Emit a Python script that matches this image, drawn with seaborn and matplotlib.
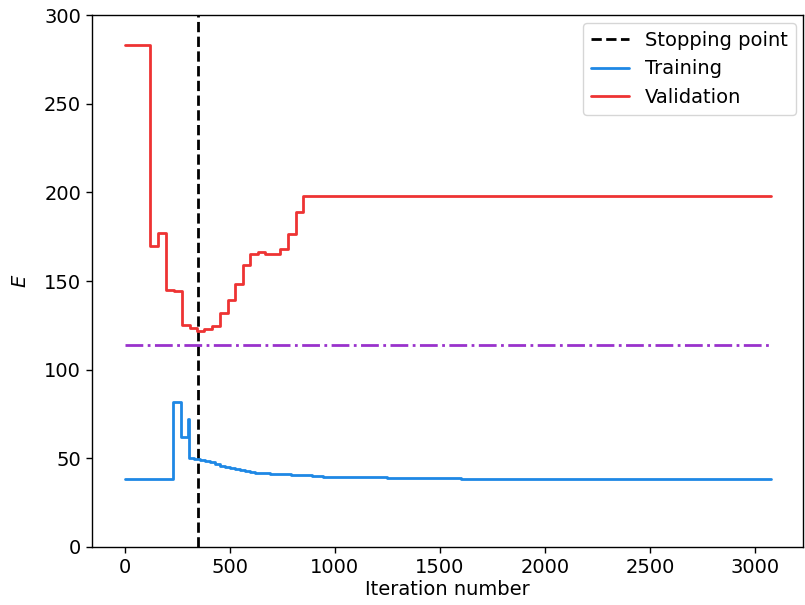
import matplotlib
matplotlib.use("Agg")
import matplotlib.pyplot as plt
import seaborn as sns
import pandas as pd

val_iter = [0, 123, 160, 198, 235, 273, 313, 344, 376, 415, 455, 491, 526, 562, 597, 637, 668, 739, 779, 815, 850, 3075]
val_E = [283, 169.5, 177, 144.8, 144.3, 125.4, 123.5, 121.6, 123, 124.5, 132, 139.5, 148.6, 158.8, 165.5, 166.5, 165, 167.8, 176.3, 188.9, 197.9, 197.9]

train_iter = [0, 231, 270, 300, 305, 330, 360, 385, 408, 430, 455, 480, 502, 525, 550, 575, 597, 620, 645, 690,
              739, 790, 834, 890, 945, 1071, 1250, 1403, 1600, 1782, 2200, 3075]
train_E = [38.2, 81.5, 62, 72, 50.1, 49.6, 49.1, 48.5, 47.8, 47.0, 45.9, 45.2, 44.4, 44.0, 43.5, 42.8, 42.2, 41.9, 41.6, 41.3,
           41.1, 40.7, 40.3, 40.0, 39.7, 39.4, 39.1, 38.8, 38.5, 38.3, 38.1, 38.1]

stop_iter = 350
ref_level = 114
ref_span = [0, 3075]

sns.set_theme(style="ticks", rc={
    'axes.edgecolor': 'black', 'axes.linewidth': 1.0,
    'xtick.color': 'black', 'ytick.color': 'black',
    'xtick.major.size': 4.5, 'ytick.major.size': 4.5,
    'xtick.major.width': 1.0, 'ytick.major.width': 1.0,
    'text.color': 'black', 'axes.labelcolor': 'black',
})
plt.rcParams['font.family'] = ['DejaVu Sans']

fig, ax = plt.subplots(figsize=(8.05, 6.05), dpi=100)
fig.subplots_adjust(left=0.1145, right=0.998, bottom=0.096, top=0.975)

ax.axvline(stop_iter, color='black', linestyle='--', lw=2, label='Stopping point')
tr = pd.DataFrame({'it': train_iter, 'E': train_E})
va = pd.DataFrame({'it': val_iter, 'E': val_E})
sns.lineplot(data=tr, x='it', y='E', ax=ax, color='#1E88E5', lw=2, drawstyle='steps-post', estimator=None, label='Training')
sns.lineplot(data=va, x='it', y='E', ax=ax, color='#EE3333', lw=2, drawstyle='steps-post', estimator=None, label='Validation')
ax.plot(ref_span, [ref_level, ref_level], color='#9932CC', lw=2, linestyle='-.')

ax.set_ylim(0, 300)
ax.set_xlabel('Iteration number', fontsize=14, labelpad=2)
ax.set_ylabel('$E$', fontsize=14, labelpad=10)
ax.tick_params(labelsize=14)
ax.legend(loc='upper right', fontsize=14, borderaxespad=0.4)
fig.savefig('out.png')
